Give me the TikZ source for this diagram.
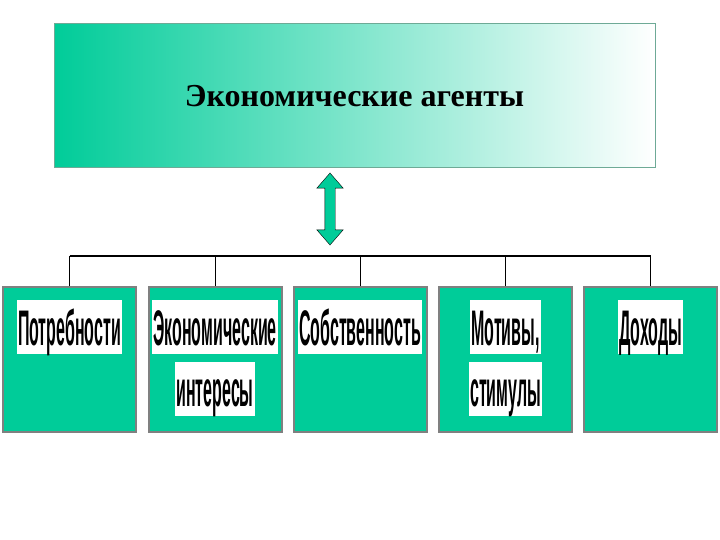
\documentclass[tikz,border=0pt]{standalone}
\usepackage{fontspec}
\setmainfont{Liberation Serif}
\newfontfamily\narrowfont[FakeStretch=0.32]{Liberation Sans}
\usetikzlibrary{positioning, shapes.arrows}
\definecolor{boxgreen}{RGB}{0,204,153}
\definecolor{edgegreen}{RGB}{110,170,150}

\begin{document}
\begin{tikzpicture}[
  x=1pt, y=-1pt,
  agent/.style={draw=gray, line width=2pt, fill=boxgreen, minimum width=133pt, minimum height=145pt, inner sep=0pt},
  word/.style={fill=white, inner xsep=1pt, inner ysep=0pt, text height=45pt, text depth=9pt, font=\narrowfont\bfseries\fontsize{50}{60}\selectfont},
  bus/.style={line width=2.5pt},
  tick/.style={line width=1pt},
  node distance=7pt
]
\useasboundingbox (0,0) rectangle (720,540);

% Top box
\node[draw=edgegreen, line width=1pt, shading=axis, left color=boxgreen, middle color=boxgreen!40, right color=white,
  minimum width=601pt, minimum height=144pt] (agents) at (354.5,96)
  {\fontsize{32}{40}\selectfont\bfseries Экономические агенты};

% Double arrow
\node[double arrow, draw, fill=boxgreen, rotate=90, minimum height=72pt, minimum width=26pt,
  double arrow head extend=8pt, double arrow tip angle=82, inner xsep=0pt, inner ysep=5pt] (link) at (330,209) {};

% Lower boxes
\node[agent] (b1) at (69.5,359.5) {};
\node[agent] (b2) at (215,359.5) {};
\node[agent] (b3) at (360,359.5) {};
\node[agent] (b4) at (505.5,359.5) {};
\node[agent] (b5) at (650.5,359.5) {};

\node[word, below=14pt of b1.north] (w1) {Потребности};
\node[word, below=14pt of b2.north] (w2a) {Экономические};
\node[word, below=of w2a] (w2b) {интересы};
\node[word, below=14pt of b3.north] (w3) {Собственность};
\node[word, below=14pt of b4.north] (w4a) {Мотивы,};
\node[word, below=of w4a] (w4b) {стимулы};
\node[word, below=14pt of b5.north] (w5) {Доходы};

% Tree lines
\coordinate (bus) at (360,256);
\draw[bus] (b1.north |- bus) -- (b5.north |- bus);
\foreach \b in {b1,b2,b3,b4,b5}
  \draw[tick] (\b.north) -- (\b.north |- bus);
\end{tikzpicture}
\end{document}
